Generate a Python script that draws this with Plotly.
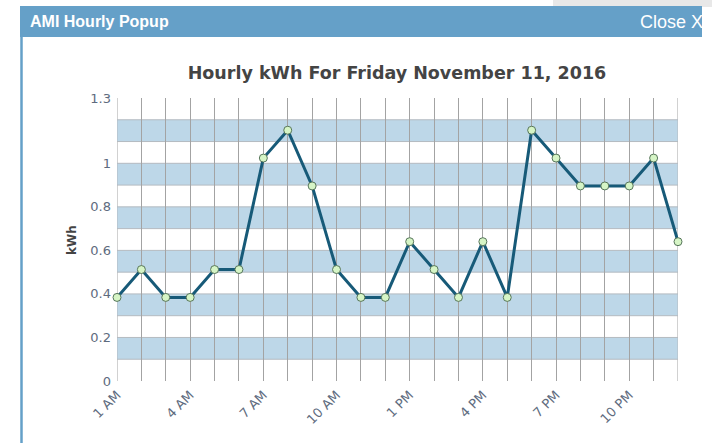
import plotly.graph_objects as go

# ---- data ----
hours = ["1 AM", "2 AM", "3 AM", "4 AM", "5 AM", "6 AM", "7 AM", "8 AM", "9 AM",
         "10 AM", "11 AM", "12 PM", "1 PM", "2 PM", "3 PM", "4 PM", "5 PM", "6 PM",
         "7 PM", "8 PM", "9 PM", "10 PM", "11 PM", "12 AM"]
kwh = [0.384, 0.512, 0.384, 0.384, 0.512, 0.512, 1.024, 1.152, 0.896,
       0.512, 0.384, 0.384, 0.64, 0.512, 0.384, 0.64, 0.384, 1.152,
       1.024, 0.896, 0.896, 0.896, 1.024, 0.64]
y_ticks = [0, 0.2, 0.4, 0.6, 0.8, 1, 1.3]
y_tick_text = ["0", "0.2", "0.4", "0.6", "0.8", "1", "1.3"]
title_text = "Hourly kWh For Friday November 11, 2016"

W, H = 712, 443
L, R, T, B = 117, 34, 98, 62
PW, PH = W - L - R, H - T - B

def px(x):
    return (x - L) / PW

def py(y):
    return (H - B - y) / PH

x_idx = list(range(len(hours)))
x_last = len(hours) - 1

fig = go.Figure()
fig.add_trace(go.Scatter(
    x=x_idx, y=kwh, mode="lines+markers",
    line=dict(color="#175a78", width=3),
    marker=dict(size=8, color="#d6f5c6", line=dict(color="#56755a", width=1)),
    cliponaxis=False, hoverinfo="x+y", showlegend=False,
))

shapes = []
# alternating bands
for lo in [0.1, 0.3, 0.5, 0.7, 0.9, 1.1]:
    shapes.append(dict(type="rect", xref="x", yref="y", x0=0, x1=x_last,
                       y0=lo, y1=lo + 0.1, fillcolor="#bdd7e8",
                       line=dict(color="#b4bac0", width=1), layer="below"))
# edge grid lines
for xe in (0, x_last):
    shapes.append(dict(type="line", xref="x", yref="paper", x0=xe, x1=xe, y0=0, y1=1,
                       line=dict(color="#a3a3a3", width=1), layer="below"))
# popup header
shapes.append(dict(type="rect", xref="paper", yref="paper",
                   x0=px(553), x1=px(712), y0=py(7), y1=py(0),
                   fillcolor="#e8e8e8", line=dict(width=0)))
shapes.append(dict(type="rect", xref="paper", yref="paper",
                   x0=px(20), x1=px(702), y0=py(37), y1=py(6),
                   fillcolor="#65a0c8", line=dict(width=0)))
shapes.append(dict(type="line", xref="paper", yref="paper",
                   x0=px(21.5), x1=px(21.5), y0=py(443), y1=py(37),
                   line=dict(color="#65a0c8", width=2.5)))

annotations = [
    dict(text="<b>AMI Hourly Popup</b>", xref="paper", yref="paper",
         x=px(28), y=py(21), xanchor="left", yanchor="middle", showarrow=False,
         font=dict(family="Liberation Sans, Arial", size=16, color="white")),
    dict(text="Close X", xref="paper", yref="paper",
         x=px(638), y=py(22), xanchor="left", yanchor="middle", showarrow=False,
         font=dict(family="Liberation Sans, Arial", size=18, color="white")),
    dict(text="<b>kWh</b>", xref="paper", yref="paper", textangle=-90,
         x=px(72), y=py(240), xanchor="center", yanchor="middle", showarrow=False,
         font=dict(family="DejaVu Sans, Verdana", size=12, color="#444444")),
]

fig.update_layout(
    width=W, height=H, margin=dict(l=L, r=R, t=T, b=B, autoexpand=False),
    paper_bgcolor="white", plot_bgcolor="white",
    title=dict(text="<b>" + title_text + "</b>", xref="container", x=397 / W,
               xanchor="center", y=1 - 73 / H, yanchor="middle",
               font=dict(family="DejaVu Sans, Verdana", size=17.5, color="#444444")),
    shapes=shapes, annotations=annotations,
    xaxis=dict(range=[0, x_last], tickmode="array",
               tickvals=x_idx[::3], ticktext=hours[::3], tickangle=-45,
               showgrid=True, gridcolor="#a3a3a3", gridwidth=1,
               minor=dict(tickmode="linear", tick0=0, dtick=1, showgrid=True,
                          gridcolor="#a3a3a3", gridwidth=1),
               zeroline=False, showline=False, ticks="", ticklabelstandoff=3,
               tickfont=dict(family="DejaVu Sans, Verdana", size=13, color="#5e6b7e")),
    yaxis=dict(range=[0, 1.3], tickmode="array", tickvals=y_ticks, ticktext=y_tick_text,
               showgrid=False, zeroline=False, showline=False, ticks="",
               ticklabelstandoff=5,
               tickfont=dict(family="DejaVu Sans, Verdana", size=13, color="#5e6b7e")),
)

fig.write_html("out.html", config={"displayModeBar": False},
               post_script="document.body.style.margin='0';document.body.style.overflow='hidden';")
